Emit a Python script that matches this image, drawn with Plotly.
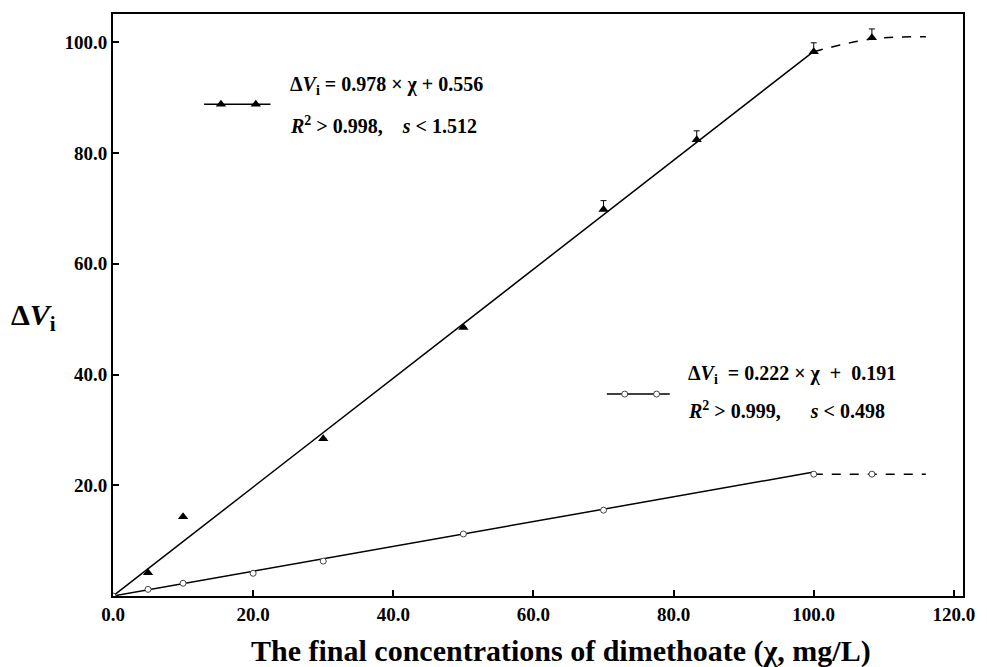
import plotly.graph_objects as go

# ---- data ----
tri_x = [5, 10, 30, 50, 70, 83.3, 100, 108.3]
tri_y = [4.2, 14.3, 28.4, 48.5, 69.8, 82.4, 98.3, 100.8]
tri_err = [0, 0, 0, 0, 1.6, 1.6, 1.6, 1.6]

cir_x = [0, 5, 10, 20, 30, 50, 70, 100, 108.3]
cir_y = [0.0, 1.2, 2.3, 4.1, 6.3, 11.2, 15.5, 22.0, 22.0]

# fitted lines (solid) and saturation extensions (dashed)
fit_x = [0, 100]
tri_fit_slope, tri_fit_icpt = 0.978, 0.556
cir_fit_slope, cir_fit_icpt = 0.222, 0.191
tri_dash_x = [100, 108.3, 116]
tri_dash_y = [98.3, 100.6, 101.0]
cir_dash_x = [100, 108.3, 116]
cir_dash_y = [22.0, 22.0, 22.0]

x_ticks = [0, 20, 40, 60, 80, 100, 120]
y_ticks = [20, 40, 60, 80, 100]

FONT = "Liberation Serif"
BLK = "black"

fig = go.Figure()

tri_fit_y = [tri_fit_slope * v + tri_fit_icpt for v in fit_x]
cir_fit_y = [cir_fit_slope * v + cir_fit_icpt for v in fit_x]
tri_fit_y[0] = 0.0
cir_fit_y[0] = 0.0

fig.add_trace(go.Scatter(x=fit_x, y=tri_fit_y, mode="lines",
                         line=dict(color=BLK, width=1.5), showlegend=False))
fig.add_trace(go.Scatter(x=tri_dash_x, y=tri_dash_y, mode="lines",
                         line=dict(color=BLK, width=1.5, dash="dash", shape="spline"),
                         showlegend=False))
fig.add_trace(go.Scatter(x=fit_x, y=cir_fit_y, mode="lines",
                         line=dict(color=BLK, width=1.5), showlegend=False))
fig.add_trace(go.Scatter(x=cir_dash_x, y=cir_dash_y, mode="lines",
                         line=dict(color=BLK, width=1.5, dash="dash"), showlegend=False))

fig.add_trace(go.Scatter(
    x=tri_x, y=tri_y, mode="markers",
    marker=dict(symbol="triangle-up", size=9, color=BLK),
    error_y=dict(type="data", array=tri_err, arrayminus=[0] * len(tri_err),
                 color=BLK, thickness=1, width=3, symmetric=False),
    showlegend=False))
fig.add_trace(go.Scatter(
    x=cir_x, y=cir_y, mode="markers",
    marker=dict(symbol="circle", size=6, color="white", line=dict(color="#444", width=1)),
    showlegend=False))

# legend samples on an overlay axis in paper-like units
fig.add_trace(go.Scatter(x=[0.1072, 0.1853], y=[0.845, 0.845], mode="lines",
                         line=dict(color=BLK, width=1.5), xaxis="x2", yaxis="y2",
                         showlegend=False))
fig.add_trace(go.Scatter(x=[0.127, 0.168], y=[0.845, 0.845], mode="markers",
                         marker=dict(symbol="triangle-up", size=9, color=BLK),
                         xaxis="x2", yaxis="y2", showlegend=False))
fig.add_trace(go.Scatter(x=[0.581, 0.655], y=[0.347, 0.347], mode="lines",
                         line=dict(color=BLK, width=1.5), xaxis="x2", yaxis="y2",
                         showlegend=False))
fig.add_trace(go.Scatter(x=[0.602, 0.6395], y=[0.347, 0.347], mode="markers",
                         marker=dict(symbol="circle", size=6, color="white",
                                     line=dict(color="#444", width=1)),
                         xaxis="x2", yaxis="y2", showlegend=False))

NB = "&nbsp;"
tfont = dict(family=FONT, size=20, color=BLK, weight="bold")
ann = [
    dict(x=0.2063, y=0.878, text="Δ<i>V</i><sub>i</sub> = 0.978 × χ + 0.556"),
    dict(x=0.2063, y=0.809, text=f"<i>R</i><sup>2</sup> > 0.998,{NB*4}<i>s</i> < 1.512"),
    dict(x=0.674, y=0.380, text=f"Δ<i>V</i><sub>i</sub>{NB}{NB}={NB}0.222 × χ {NB}+{NB} 0.191"),
    dict(x=0.674, y=0.320, text=f"<i>R</i><sup>2</sup> > 0.999,{NB*6}<i>s</i> < 0.498"),
]
annotations = [dict(xref="paper", yref="paper", xanchor="left", yanchor="middle",
                    showarrow=False, font=tfont, **a) for a in ann]
annotations.append(dict(xref="paper", yref="paper", x=0.527, y=-0.094,
                        xanchor="center", yanchor="middle", showarrow=False,
                        text="The final concentrations of dimethoate (χ, mg/L)",
                        font=dict(family=FONT, size=30, color=BLK, weight="bold")))
annotations.append(dict(xref="paper", yref="paper", x=-0.065, y=0.48,
                        xanchor="right", yanchor="middle", showarrow=False,
                        text="Δ<i>V</i><sub>i</sub>",
                        font=dict(family=FONT, size=30, color=BLK, weight="bold")))

tickfont = dict(family=FONT, size=19, color=BLK, weight="bold")
fig.update_layout(
    width=987, height=667,
    margin=dict(l=113, r=12, t=14, b=71),
    paper_bgcolor="white", plot_bgcolor="white",
    showlegend=False,
    annotations=annotations,
    xaxis=dict(range=[0, 121.3], tickvals=x_ticks,
               ticktext=[f"{v:.1f}" for v in x_ticks],
               ticks="inside", ticklen=6, tickwidth=2, tickcolor=BLK,
               showline=True, linewidth=2, linecolor=BLK, mirror=True,
               showgrid=False, zeroline=False, tickfont=tickfont),
    yaxis=dict(range=[0, 105.1], tickvals=y_ticks,
               ticktext=[f"{v:.1f}" for v in y_ticks],
               ticks="inside", ticklen=6, tickwidth=2, tickcolor=BLK,
               showline=True, linewidth=2, linecolor=BLK, mirror=True,
               showgrid=False, zeroline=False, tickfont=tickfont),
    xaxis2=dict(range=[0, 1], overlaying="x", visible=False, anchor="y2"),
    yaxis2=dict(range=[0, 1], overlaying="y", visible=False, anchor="x2"),
)

fig.write_html("out.html")
